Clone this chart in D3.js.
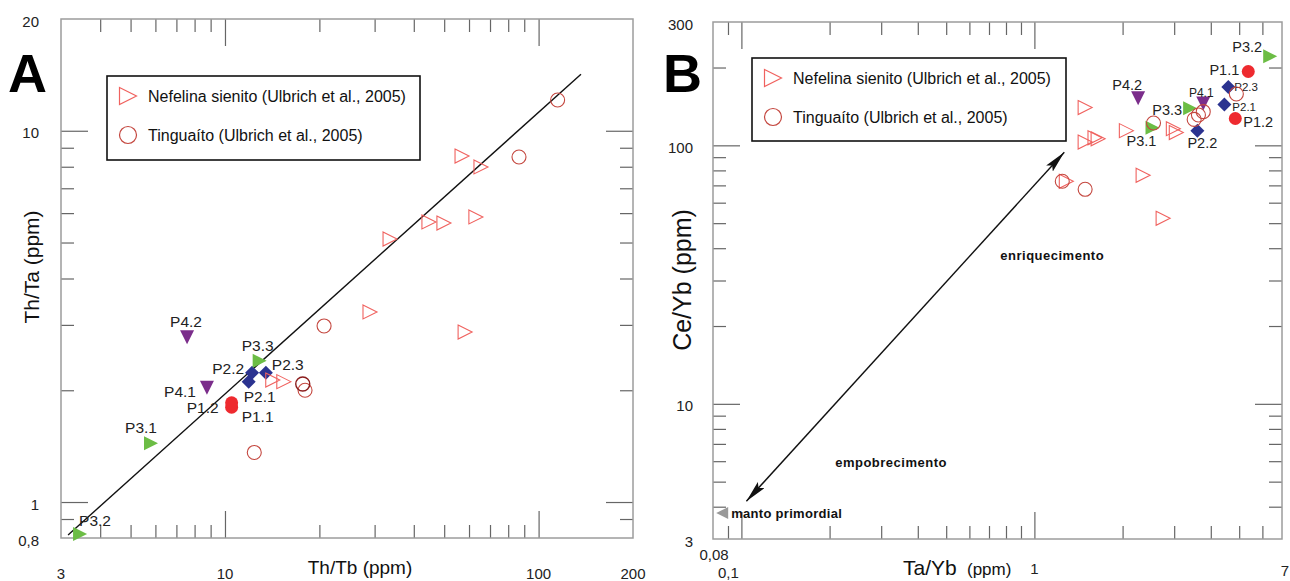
<!DOCTYPE html>
<html>
<head>
<meta charset="utf-8">
<script src="https://cdn.jsdelivr.net/npm/d3@7"></script>
<style>
  body { margin: 0; background: #fff; }
  svg { display: block; font-family: "Liberation Sans", Arial, sans-serif; }
</style>
</head>
<body>
<svg id="chart" width="1290" height="581"></svg>
<script>
// ---------- data, panel A : Th/Tb vs Th/Ta ----------
const nefelinaA = [[57.0, 8.55], [65.5, 7.99], [44.7, 5.68], [49.9, 5.64], [63.1, 5.86],
  [33.6, 5.11], [29.0, 3.25], [58.3, 2.87], [14.2, 2.13], [15.4, 2.11]];
const tinguaitoA = [[115, 12.1], [86.6, 8.5], [20.7, 2.98], [18.0, 2.0], [12.4, 1.36]];
const tinguaitoDarkA = [[17.7, 2.08]];
const samplesA = [
  ["P1.1", 10.5, 1.80], ["P1.2", 10.5, 1.85],
  ["P2.1", 11.9, 2.11], ["P2.2", 12.2, 2.23], ["P2.3", 13.5, 2.23],
  ["P3.1", 5.81, 1.44], ["P3.2", 3.45, 0.82], ["P3.3", 12.9, 2.40],
  ["P4.1", 8.76, 2.03], ["P4.2", 7.57, 2.78]
];
const trendA = [[3.16, 0.815], [136.5, 14.2]];

// ---------- data, panel B : Ta/Yb vs Ce/Yb ----------
const nefelinaB = [[1.49, 140], [1.49, 103], [1.61, 107], [1.65, 106], [2.06, 114],
  [2.98, 116], [3.05, 112], [2.35, 76.6], [2.75, 52.2], [1.285, 72.6]];
const tinguaitoB = [[1.245, 72.6], [1.49, 67.6], [2.55, 122], [4.89, 158],
  [3.51, 126], [3.63, 131], [3.77, 135]];
const samplesB = [
  ["P1.1", 5.37, 193], ["P1.2", 4.85, 127],
  ["P2.1", 4.45, 144], ["P2.2", 3.60, 114], ["P2.3", 4.59, 168],
  ["P3.1", 2.53, 117], ["P3.2", 6.38, 221], ["P3.3", 3.40, 139],
  ["P4.1", 3.77, 145], ["P4.2", 2.26, 152]
];
const arrowB = [[0.104, 4.2], [1.265, 94]];
const mantoB = [0.086, 3.78];

// tick values
const xTicksA = { major: [10, 100], minor: [4, 5, 6, 7, 8, 9, 20, 30, 40, 50, 60, 70, 80, 90], labels: [3, 10, 100, 200] };
const yTicksA = { major: [1, 10], minor: [0.9, 2, 3, 4, 5, 6, 7, 8, 9], labels: [0.8, 1, 10, 20] };
const xTicksB = { major: [0.1, 1], minor: [0.09, 0.2, 0.3, 0.4, 0.5, 0.6, 0.7, 0.8, 0.9, 2, 3, 4, 5, 6], labels: [0.08, 0.1, 1, 7] };
const yTicksB = { major: [10, 100], minor: [4, 5, 6, 7, 8, 9, 20, 30, 40, 50, 60, 70, 80, 90, 200], labels: [3, 10, 100, 300] };

const legendItems = [
  { shape: "tri", text: "Nefelina sienito (Ulbrich et al., 2005)" },
  { shape: "circ", text: "Tinguaíto (Ulbrich et al., 2005)" }
];

// ---------- style ----------
const C = {
  frame: "#9c9c9c", tick: "#666",
  nef: "#f0625f", ting: "#c4473f", tingDark: "#8a1c1c",
  P1: "#ee2a2f", P2: "#2b3390", P3: "#6cbd45", P4: "#7b2d8b"
};

const shapes = {
  right: s => `M${-s / 2},${-s / 2}L${s / 2},0L${-s / 2},${s / 2}Z`,
  left: s => `M${s / 2},${-s / 2}L${-s / 2},0L${s / 2},${s / 2}Z`,
  down: s => `M${-s / 2},${-s / 2}L${s / 2},${-s / 2}L0,${s / 2}Z`,
  diamond: s => `M0,${-s / 2}L${s / 2},0L0,${s / 2}L${-s / 2},0Z`
};
const sampleShape = { P1: "circle", P2: "diamond", P3: "right", P4: "down" };

const fmt = v => String(v).replace(".", ",");
const svg = d3.select("#chart");

const defs = svg.append("defs");
defs.append("marker").attr("id", "ah").attr("viewBox", "0 0 22 9")
  .attr("refX", 22).attr("refY", 4.5).attr("markerWidth", 22).attr("markerHeight", 9)
  .attr("markerUnits", "userSpaceOnUse").attr("orient", "auto-start-reverse")
  .append("path").attr("d", "M0,0L22,4.5L0,9L4,4.5Z").attr("fill", "#111");

function drawPanel(cfg) {
  const g = svg.append("g");
  const x = d3.scaleLog().domain(cfg.xDomain).range([cfg.left, cfg.right]);
  const y = d3.scaleLog().domain(cfg.yDomain).range([cfg.bottom, cfg.top]);
  const line = d3.line().x(d => x(d[0])).y(d => y(d[1]));

  // inward ticks on all four sides
  const sides = [
    [d3.axisBottom(x), `translate(0,${cfg.bottom})`, cfg.xTicks],
    [d3.axisTop(x), `translate(0,${cfg.top})`, cfg.xTicks],
    [d3.axisLeft(y), `translate(${cfg.left},0)`, cfg.yTicks],
    [d3.axisRight(y), `translate(${cfg.right},0)`, cfg.yTicks]
  ];
  sides.forEach(([axis, tr, t]) => {
    [[t.major, 27], [t.minor, 13]].forEach(([vals, len]) => {
      const a = g.append("g").attr("transform", tr)
        .call(axis.tickValues(vals).tickSize(-len).tickFormat(""));
      a.select(".domain").remove();
      a.selectAll("line").attr("stroke", C.tick).attr("stroke-width", 1.2);
    });
  });

  g.append("rect")
    .attr("x", cfg.left).attr("y", cfg.top)
    .attr("width", cfg.right - cfg.left).attr("height", cfg.bottom - cfg.top)
    .attr("fill", "none").attr("stroke", C.frame).attr("stroke-width", 1.5);

  // tick labels
  g.append("g").selectAll("text").data(cfg.xTicks.labels).join("text")
    .attr("x", (d, i) => x(d) + (cfg.xLabelOff[i] || [0, 0])[0])
    .attr("y", (d, i) => cfg.xLabelY + (cfg.xLabelOff[i] || [0, 0])[1])
    .attr("text-anchor", "middle").attr("dominant-baseline", "central")
    .attr("font-size", 15).attr("fill", "#222").text(fmt);
  g.append("g").selectAll("text").data(cfg.yTicks.labels).join("text")
    .attr("x", cfg.yLabelX).attr("y", d => y(d) + 2)
    .attr("text-anchor", "end").attr("dominant-baseline", "central")
    .attr("font-size", 15).attr("fill", "#222").text(fmt);

  // panel letter
  g.append("text").attr("x", cfg.letter[1]).attr("y", cfg.letter[2])
    .attr("font-size", 54).attr("font-weight", "bold").attr("fill", "#000")
    .text(cfg.letter[0]);

  // legend
  const lg = g.append("g").attr("transform", `translate(${cfg.legend[0]},${cfg.legend[1]})`);
  lg.append("rect").attr("width", cfg.legend[2]).attr("height", cfg.legend[3])
    .attr("fill", "#fff").attr("stroke", "#111").attr("stroke-width", 1.6);
  legendItems.forEach((it, i) => {
    const cy = 20 + i * 39;
    if (it.shape === "tri") {
      lg.append("path").attr("d", shapes.right(17)).attr("transform", `translate(21,${cy})`)
        .attr("fill", "none").attr("stroke", C.nef).attr("stroke-width", 1.2);
    } else {
      lg.append("circle").attr("cx", 21).attr("cy", cy).attr("r", 8.5)
        .attr("fill", "none").attr("stroke", C.ting).attr("stroke-width", 1.2);
    }
    lg.append("text").attr("x", 41).attr("y", cy).attr("dominant-baseline", "central")
      .attr("font-size", 16).attr("fill", "#111").text(it.text);
  });

  // trend line / arrow
  if (cfg.trend) {
    g.append("path").attr("d", line(cfg.trend))
      .attr("stroke", "#111").attr("stroke-width", 1.4).attr("fill", "none")
      .attr("marker-start", cfg.arrow ? "url(#ah)" : null)
      .attr("marker-end", cfg.arrow ? "url(#ah)" : null);
  }

  // filled samples
  const sg = g.append("g");
  cfg.samples.forEach(([id, vx, vy]) => {
    const grp = id.slice(0, 2);
    const px = x(vx), py = y(vy);
    if (sampleShape[grp] === "circle") {
      sg.append("circle").attr("cx", px).attr("cy", py).attr("r", 6.5).attr("fill", C[grp]);
    } else {
      sg.append("path").attr("d", shapes[sampleShape[grp]](14))
        .attr("transform", `translate(${px},${py})`).attr("fill", C[grp]);
    }
    const lo = cfg.labelPos[id];
    sg.append("text").attr("x", px + lo[0]).attr("y", py + lo[1])
      .attr("text-anchor", lo[2]).attr("dominant-baseline", "central")
      .attr("font-size", lo[3] || cfg.labelSize).attr("fill", "#222").text(id);
  });

  // open reference data
  g.append("g").selectAll("path").data(cfg.nef).join("path")
    .attr("d", shapes.right(14))
    .attr("transform", d => `translate(${x(d[0])},${y(d[1])})`)
    .attr("fill", "none").attr("stroke", C.nef).attr("stroke-width", 1.1);
  g.append("g").selectAll("circle").data(cfg.ting).join("circle")
    .attr("cx", d => x(d[0])).attr("cy", d => y(d[1])).attr("r", 7)
    .attr("fill", "none").attr("stroke", C.ting).attr("stroke-width", 1.1);
  g.append("g").selectAll("circle").data(cfg.tingDark || []).join("circle")
    .attr("cx", d => x(d[0])).attr("cy", d => y(d[1])).attr("r", 7)
    .attr("fill", "none").attr("stroke", C.tingDark).attr("stroke-width", 1.4);

  return { g, x, y };
}

// ---------- panel A ----------
const A = drawPanel({
  left: 61, right: 633, top: 19, bottom: 538,
  xDomain: [3, 200], yDomain: [0.8, 20],
  xTicks: xTicksA, yTicks: yTicksA,
  xLabelY: 573, xLabelOff: [], yLabelX: 39,
  letter: ["A", 8, 92],
  legend: [107, 76, 313, 84],
  trend: trendA,
  samples: samplesA, nef: nefelinaA, ting: tinguaitoA, tingDark: tinguaitoDarkA,
  labelSize: 15.5,
  labelPos: {
    "P4.2": [-1, -16, "middle"], "P4.1": [-11, 4, "end"], "P3.3": [-2, -15, "middle"],
    "P2.2": [-8, -4, "end"], "P2.3": [6, -8, "start"], "P2.1": [11, 15, "middle"],
    "P1.2": [-13, 5, "end"], "P1.1": [10, 9, "start"], "P3.1": [-10, -16, "middle"],
    "P3.2": [15, -14, "middle"]
  }
});
A.g.append("text").attr("x", 360).attr("y", 574).attr("text-anchor", "middle")
  .attr("font-size", 19).attr("fill", "#111").text("Th/Tb (ppm)");
A.g.append("text").attr("transform", "translate(39,267) rotate(-90)")
  .attr("text-anchor", "middle").attr("font-size", 21).attr("fill", "#111").text("Th/Ta (ppm)");

// ---------- panel B ----------
const B = drawPanel({
  left: 713, right: 1282, top: 22, bottom: 539,
  xDomain: [0.08, 7], yDomain: [3, 300],
  xTicks: xTicksB, yTicks: yTicksB,
  xLabelY: 568, xLabelOff: [[1, -14], [-13, 4], [0, 0], [3, 2]], yLabelX: 693,
  letter: ["B", 663, 92],
  legend: [752, 58, 314, 83],
  trend: arrowB, arrow: true,
  samples: samplesB, nef: nefelinaB, ting: tinguaitoB,
  labelSize: 14.5,
  labelPos: {
    "P3.2": [-23, -9, "middle"], "P1.1": [-9, -2, "end"], "P2.3": [6, 0, "start", 11.5],
    "P2.1": [8, 3, "start", 11.5], "P1.2": [8, 3, "start"], "P4.1": [-2, -11, "middle", 12],
    "P3.3": [-8, 2, "end"], "P2.2": [5, 12, "middle"], "P4.2": [-11, -13, "middle"],
    "P3.1": [-11, 13, "middle"]
  }
});

B.g.append("path").attr("d", shapes.left(12))
  .attr("transform", `translate(${B.x(mantoB[0])},${B.y(mantoB[1])})`).attr("fill", "#999");
B.g.append("text").attr("x", B.x(mantoB[0]) + 9).attr("y", B.y(mantoB[1]))
  .attr("dominant-baseline", "central").attr("font-size", 13).attr("font-weight", "bold")
  .attr("letter-spacing", 0.3).attr("fill", "#111").text("manto primordial");
B.g.append("text").attr("x", B.x(0.765)).attr("y", B.y(35.9))
  .attr("font-size", 13).attr("font-weight", "bold").attr("letter-spacing", 0.5)
  .attr("fill", "#111").text("enriquecimento");
B.g.append("text").attr("x", B.x(0.209)).attr("y", B.y(5.69))
  .attr("font-size", 13).attr("font-weight", "bold").attr("letter-spacing", 0.5)
  .attr("fill", "#111").text("empobrecimento");

B.g.append("text").attr("x", 903).attr("y", 575)
  .attr("font-size", 21).attr("fill", "#111").text("Ta/Yb");
B.g.append("text").attr("x", 967).attr("y", 575)
  .attr("font-size", 17).attr("fill", "#111").text("(ppm)");
B.g.append("text").attr("transform", "translate(691,280) rotate(-90)")
  .attr("text-anchor", "middle").attr("font-size", 25).attr("fill", "#111").text("Ce/Yb (ppm)");
</script>
</body>
</html>
